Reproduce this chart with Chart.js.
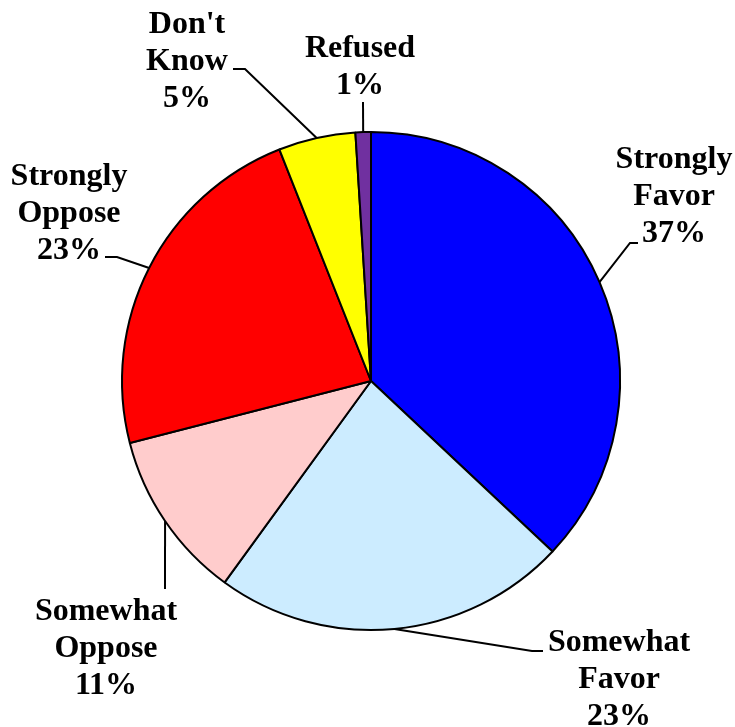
<!DOCTYPE html>
<html>
<head>
<meta charset="utf-8">
<script src="https://cdn.jsdelivr.net/npm/chart.js@4/dist/chart.umd.min.js"></script>
<style>
  html, body { margin: 0; padding: 0; background: #fff; }
  #wrap { width: 735px; height: 727px; }
</style>
</head>
<body>
<div id="wrap"><canvas id="pieChart" width="735" height="727"></canvas></div>
<script>
const categories = ["Strongly Favor", "Somewhat Favor", "Somewhat Oppose", "Strongly Oppose", "Don't Know", "Refused"];
const labelLines = [["Strongly", "Favor"], ["Somewhat", "Favor"], ["Somewhat", "Oppose"], ["Strongly", "Oppose"], ["Don't", "Know"], ["Refused"]];
const percents = [37, 23, 11, 23, 5, 1];
const sliceColors = ["#0000FF", "#CCECFF", "#FFCCCC", "#FF0000", "#FFFF00", "#7030A0"];

// where each label sits: text centre x, first baseline y, and the leader elbow / end points
const labelLayout = [
  { x: 674, y: 168, elbow: [630, 243], end: [638, 243] },
  { x: 619, y: 651, elbow: [532, 651], end: [543, 651] },
  { x: 106, y: 620, elbow: null, end: [165, 589] },
  { x: 69, y: 185, elbow: [117, 257], end: [105, 257] },
  { x: 187, y: 33, elbow: [245, 69], end: [233, 69] },
  { x: 360, y: 57, elbow: null, end: [363, 102] },
];

const outsideLabels = {
  id: "outsideLabels",
  afterDraw(chart) {
    const ctx = chart.ctx;
    const arcs = chart.getDatasetMeta(0).data;
    ctx.save();
    ctx.strokeStyle = "#000";
    ctx.lineWidth = 2;
    arcs.forEach(function (arc, i) {
      const mid = (arc.startAngle + arc.endAngle) / 2;
      const px = arc.x + Math.cos(mid) * arc.outerRadius;
      const py = arc.y + Math.sin(mid) * arc.outerRadius;
      const lay = labelLayout[i];
      ctx.beginPath();
      ctx.moveTo(px, py);
      if (lay.elbow) ctx.lineTo(lay.elbow[0], lay.elbow[1]);
      ctx.lineTo(lay.end[0], lay.end[1]);
      ctx.stroke();

      ctx.fillStyle = "#000";
      ctx.font = "bold 32px 'Liberation Serif', 'Times New Roman', serif";
      ctx.textAlign = "center";
      ctx.textBaseline = "alphabetic";
      const lines = labelLines[i].concat([percents[i] + "%"]);
      lines.forEach(function (t, k) {
        ctx.fillText(t, lay.x, lay.y + k * 37);
      });
    });
    ctx.restore();
  },
};

new Chart(document.getElementById("pieChart").getContext("2d"), {
  type: "pie",
  data: {
    labels: categories,
    datasets: [
      {
        data: percents,
        backgroundColor: sliceColors,
        borderColor: "#000",
        borderWidth: 2,
      },
    ],
  },
  options: {
    responsive: false,
    animation: false,
    layout: { padding: { left: 121, right: 114, top: 131, bottom: 96 } },
    plugins: {
      legend: { display: false },
      tooltip: { enabled: false },
    },
  },
  plugins: [outsideLabels],
});
</script>
</body>
</html>
